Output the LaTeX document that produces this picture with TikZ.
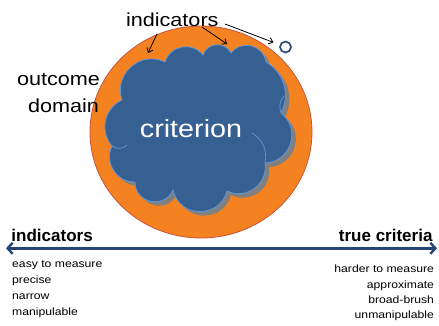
\documentclass[tikz,border=0pt]{standalone}
\usepackage{fontspec}
\setmainfont{Liberation Sans}
\newfontfamily\widefont[FakeStretch=1.15]{Liberation Sans}
\usetikzlibrary{arrows.meta,calc}

\definecolor{domainorange}{RGB}{245,130,32}
\definecolor{domainedge}{RGB}{196,84,60}
\definecolor{cloudblue}{RGB}{55,96,146}
\definecolor{cloudedge}{RGB}{96,150,214}
\definecolor{cloudshade}{RGB}{128,128,128}
\definecolor{axisblue}{RGB}{38,68,118}
\definecolor{dotblue}{RGB}{44,77,117}

% outline of the criterion cloud, one puff per segment
\newcommand\cloudoutline{(112,179)
  to[bend left=53, looseness=1.06] (122,225)
  to[bend left=67, looseness=1.22] (165,263)
  to[bend left=62, looseness=1.16] (203,270)
  to[bend left=67, looseness=1.22] (231,272)
  to[bend left=67, looseness=1.22] (266,263)
  to[bend left=44, looseness=0.99] (281,212)
  to[bend left=70, looseness=1.27] (265,162)
  to[bend left=62, looseness=1.16] (227,134)
  to[bend left=76, looseness=1.37] (173,135)
  to[bend left=78, looseness=1.40] (135,143)
  to[bend left=58, looseness=1.11] (112,179) -- cycle}

\tikzset{
  txt/.style={inner sep=0pt, outer sep=0pt},
  biglabel/.style={txt, font=\widefont\fontsize{18.8}{22}\selectfont},
  smalllabel/.style={txt, font=\widefont\fontsize{10.6}{13}\selectfont},
  headlabel/.style={txt, font=\bfseries\fontsize{17}{20}\selectfont},
  pointer/.style={line width=0.8pt, -{Straight Barb[length=4pt,width=6.5pt]}},
  axis/.style={axisblue, line width=2.4pt,
    {Straight Barb[length=5pt,width=11pt]}-{Straight Barb[length=5pt,width=11pt]}},
}

\begin{document}
\begin{tikzpicture}[x=1pt,y=1pt]
\useasboundingbox (0,0) rectangle (439,325);

% outcome domain
\filldraw[fill=domainorange, draw=domainedge, line width=0.8pt]
  (201,193) ellipse [x radius=111, y radius=106];

% cloud with its drop shadow
\begin{scope}[shift={(4,-4)}]
  \fill[cloudshade] \cloudoutline;
\end{scope}
\filldraw[fill=cloudblue, draw=cloudedge, line width=0.8pt] \cloudoutline;

% hidden puff edges showing through the cloud
\draw[cloudedge, line width=0.7pt] (112,179) to[bend right=40] (127,180);
\draw[cloudedge, line width=0.7pt] (265,162) to[bend right=35] (252,192);
\draw[cloudedge, line width=0.7pt] (281,212) to[bend left=30] (284,229);

\node[txt, text=white, anchor=base, font=\widefont\fontsize{25}{30}\selectfont]
  (crit) at (191,188) {criterion};

% labels at the top
\node[biglabel, anchor=base west] (ind) at (126,299) {indicators};
\node[biglabel, anchor=base west] (outc) at (17,240) {outcome};
\node[biglabel, anchor=base west] (dom) at (28,213) {domain};

\node[circle, draw=dotblue, fill=white, line width=1.7pt, minimum size=11pt,
  inner sep=0pt] (dot) at (285.5,278) {};

\coordinate (p1s) at (157,291);
\coordinate (p1e) at (148,272);
\coordinate (p2s) at (202,298);
\coordinate (p2e) at (227,281);
\coordinate (p3s) at (225,301);
\draw[pointer] (p1s) -- (p1e);
\draw[pointer] (p2s) -- (p2e);
\draw[pointer, shorten >=6.5pt] (p3s) -- (dot);

% scale from indicators to true criteria
\node[headlabel, anchor=base west] (lefthead) at (11.5,84) {indicators};
\node[headlabel, anchor=base east] (righthead) at (432.5,84) {true criteria};
\coordinate (axl) at (6,76.7);
\coordinate (axr) at (437,76.7);
\draw[axis] (axl) -- (axr);

\node[smalllabel, anchor=base west] (l1) at (12.2,57.5) {easy to measure};
\node[smalllabel, anchor=base west] (l2) at (12.2,41.6) {precise};
\node[smalllabel, anchor=base west] (l3) at (12.2,25.8) {narrow};
\node[smalllabel, anchor=base west] (l4) at (12.2,10) {manipulable};

\node[smalllabel, anchor=base east] (r1) at (434,53) {harder to measure};
\node[smalllabel, anchor=base east] (r2) at (434,37) {approximate};
\node[smalllabel, anchor=base east] (r3) at (434,21.5) {broad-brush};
\node[smalllabel, anchor=base east] (r4) at (434,6.5) {unmanipulable};
\end{tikzpicture}
\end{document}
